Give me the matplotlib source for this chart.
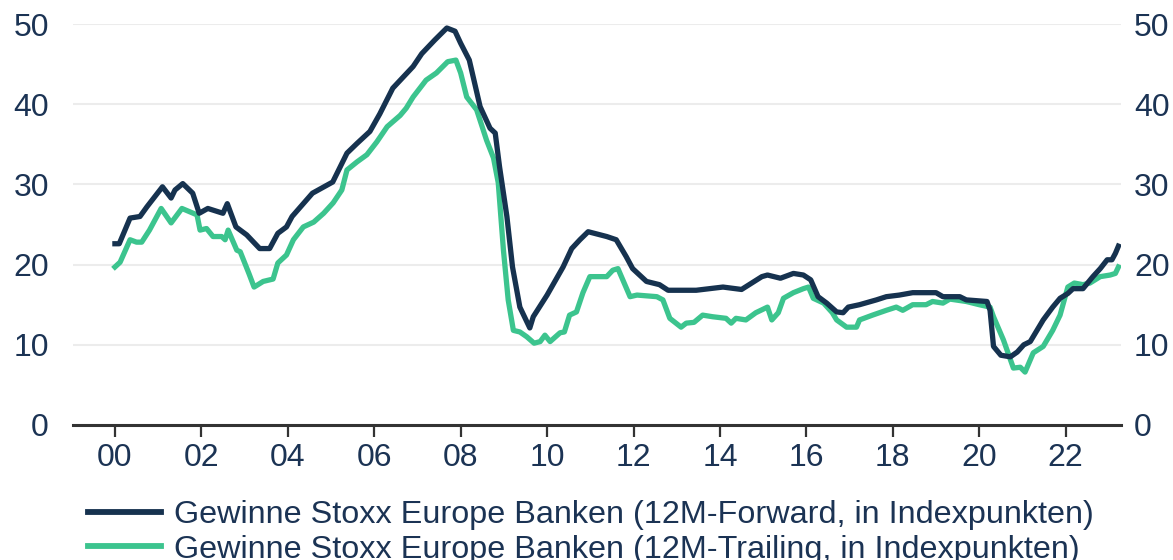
import matplotlib
matplotlib.use("Agg")
import matplotlib.pyplot as plt

plt.rcParams['font.family'] = ['Liberation Sans', 'DejaVu Sans']

# 12M-Forward earnings (year, index points)
fwd_years = [2000.0, 2000.1, 2000.35, 2000.58, 2000.74, 2001.1, 2001.3, 2001.39, 2001.57, 2001.8,
             2001.95, 2002.15, 2002.5, 2002.6, 2002.8, 2003.05, 2003.35, 2003.58, 2003.77, 2003.97,
             2004.1, 2004.57, 2005.04, 2005.37, 2005.6, 2005.9, 2006.13, 2006.43, 2006.9, 2007.1,
             2007.4, 2007.68, 2007.87, 2008.0, 2008.2, 2008.45, 2008.68, 2008.8, 2008.9, 2009.07,
             2009.2, 2009.37, 2009.6, 2009.68, 2010.0, 2010.37, 2010.57, 2010.76, 2010.95, 2011.38,
             2011.6, 2011.83, 2011.98, 2012.3, 2012.6, 2012.8, 2013.45, 2014.07, 2014.5, 2014.97,
             2015.1, 2015.4, 2015.7, 2015.93, 2016.1, 2016.27, 2016.47, 2016.7, 2016.85, 2016.97,
             2017.23, 2017.62, 2017.85, 2018.15, 2018.46, 2019.0, 2019.16, 2019.55, 2019.7, 2020.18,
             2020.25, 2020.33, 2020.5, 2020.72, 2020.88, 2021.03, 2021.18, 2021.48, 2021.7, 2021.87,
             2022.05, 2022.17, 2022.4, 2022.63, 2022.8, 2022.96, 2023.07, 2023.15, 2023.22]
fwd_values = [22.6, 22.6, 25.8, 26.0, 27.2, 29.7, 28.3, 29.3, 30.1, 28.9,
              26.4, 27.0, 26.4, 27.6, 24.7, 23.7, 22.0, 22.0, 23.9, 24.7,
              26.0, 28.9, 30.3, 33.9, 35.1, 36.6, 38.8, 42.0, 44.7, 46.3,
              48.0, 49.5, 49.1, 47.6, 45.5, 39.7, 37.0, 36.4, 32.2, 26.0,
              19.7, 14.7, 12.1, 13.5, 16.2, 19.7, 22.0, 23.1, 24.1, 23.5,
              23.1, 21.0, 19.5, 17.9, 17.5, 16.8, 16.8, 17.2, 16.9, 18.5,
              18.7, 18.3, 18.9, 18.7, 18.1, 16.0, 15.2, 14.1, 14.0, 14.7,
              15.0, 15.6, 16.0, 16.2, 16.5, 16.5, 16.0, 16.0, 15.6, 15.4,
              14.3, 9.8, 8.7, 8.5, 9.1, 10.0, 10.4, 13.1, 14.7, 15.8,
              16.4, 17.0, 17.0, 18.5, 19.5, 20.6, 20.6, 21.4, 22.3]

# 12M-Trailing earnings (year, index points)
trl_years = [2000.0, 2000.12, 2000.35, 2000.5, 2000.62, 2000.8, 2001.07, 2001.3, 2001.55, 2001.9,
             2001.97, 2002.12, 2002.27, 2002.47, 2002.55, 2002.62, 2002.82, 2002.9, 2003.1, 2003.22,
             2003.43, 2003.66, 2003.77, 2003.97, 2004.13, 2004.36, 2004.6, 2004.83, 2005.05, 2005.25,
             2005.37, 2005.6, 2005.83, 2006.06, 2006.3, 2006.6, 2006.74, 2006.9, 2007.2, 2007.44,
             2007.7, 2007.89, 2008.0, 2008.14, 2008.37, 2008.6, 2008.76, 2008.87, 2008.99, 2009.1,
             2009.22, 2009.37, 2009.53, 2009.7, 2009.84, 2009.95, 2010.07, 2010.3, 2010.4, 2010.52,
             2010.68, 2010.83, 2010.99, 2011.38, 2011.52, 2011.64, 2011.8, 2011.92, 2012.08, 2012.54,
             2012.68, 2012.84, 2013.1, 2013.22, 2013.4, 2013.6, 2013.83, 2014.14, 2014.26, 2014.37,
             2014.6, 2014.83, 2015.1, 2015.2, 2015.35, 2015.47, 2015.7, 2015.93, 2016.05, 2016.16,
             2016.4, 2016.6, 2016.7, 2016.93, 2017.16, 2017.23, 2017.53, 2017.85, 2018.08, 2018.23,
             2018.46, 2018.77, 2018.92, 2019.16, 2019.32, 2019.7, 2020.0, 2020.25, 2020.33, 2020.56,
             2020.79, 2020.95, 2021.06, 2021.25, 2021.48, 2021.7, 2021.87, 2022.05, 2022.2, 2022.4,
             2022.56, 2022.8, 2023.03, 2023.15, 2023.22]
trl_values = [19.7, 20.3, 23.1, 22.8, 22.8, 24.3, 27.0, 25.2, 27.0, 26.2,
              24.3, 24.5, 23.5, 23.5, 23.1, 24.3, 21.8, 21.6, 18.9, 17.2,
              17.9, 18.2, 20.2, 21.2, 23.1, 24.7, 25.3, 26.4, 27.7, 29.3,
              31.8, 32.8, 33.7, 35.3, 37.2, 38.6, 39.5, 40.9, 43.0, 43.9,
              45.3, 45.5, 43.9, 40.9, 39.3, 35.5, 33.3, 30.2, 21.8, 15.6,
              11.8, 11.6, 11.0, 10.2, 10.4, 11.2, 10.4, 11.5, 11.6, 13.7,
              14.1, 16.5, 18.5, 18.5, 19.3, 19.5, 17.5, 16.0, 16.2, 16.0,
              15.6, 13.3, 12.2, 12.7, 12.8, 13.7, 13.5, 13.3, 12.7, 13.3,
              13.1, 14.0, 14.7, 13.1, 14.0, 15.8, 16.5, 17.0, 17.2, 15.8,
              15.2, 14.0, 13.1, 12.2, 12.2, 13.1, 13.7, 14.3, 14.7, 14.3,
              15.0, 15.0, 15.4, 15.2, 15.7, 15.4, 15.0, 14.7, 13.5, 10.6,
              7.1, 7.2, 6.6, 9.0, 9.8, 11.8, 13.7, 17.2, 17.7, 17.5,
              17.7, 18.5, 18.7, 18.9, 19.7]

tick_years = [2000, 2002, 2004, 2006, 2008, 2010, 2012, 2014, 2016, 2018, 2020, 2022]
tick_labels = ['00', '02', '04', '06', '08', '10', '12', '14', '16', '18', '20', '22']
y_ticks = [0, 10, 20, 30, 40, 50]

label_fwd = 'Gewinne Stoxx Europe Banken (12M-Forward, in Indexpunkten)'
label_trl = 'Gewinne Stoxx Europe Banken (12M-Trailing, in Indexpunkten)'

NAVY = '#16324f'
GREEN = '#3cc48e'
TEXT = '#1b3354'

fig = plt.figure(figsize=(11.73, 5.6), dpi=100)
ax = fig.add_axes([73/1173, 1-425/560, (1121-73)/1173, (425-24)/560])

ax.plot(fwd_years, fwd_values, color=NAVY, lw=3.8, solid_joinstyle='round', zorder=3, label=label_fwd)
ax.plot(trl_years, trl_values, color=GREEN, lw=3.8, solid_joinstyle='round', zorder=2, label=label_trl)

ax.set_xlim(1999.03, 2023.28)
ax.set_ylim(0, 50)
ax.set_yticks(y_ticks)
ax.set_xticks(tick_years)
ax.set_xticklabels(tick_labels)
ax.grid(axis='y', color='#ececec', lw=1.5, zorder=0)
ax.set_axisbelow(True)

for s in ['top', 'left', 'right']:
    ax.spines[s].set_visible(False)
ax.spines['bottom'].set_color('#333333')
ax.spines['bottom'].set_linewidth(2.2)

ax.tick_params(axis='x', length=8.6, width=1.6, color='#333333', labelsize=23, labelcolor=TEXT, pad=4)
ax.tick_params(axis='y', length=0, labelsize=23, labelcolor=TEXT, labelleft=True, labelright=True)

for t in ax.yaxis.get_major_ticks():
    t.label1.set_horizontalalignment('right')
    t.label2.set_horizontalalignment('left')
    t.label1.set_x(-24/1048)
    t.label2.set_x(1 + 13/1048)
ax.tick_params(axis='y', pad=0)
for t in ax.yaxis.get_major_ticks():
    t.label1.set_transform(ax.get_yaxis_transform())
    t.label2.set_transform(ax.get_yaxis_transform())

leg = fig.legend(loc='upper left', bbox_to_anchor=(75/1173, 1-487/560), frameon=False,
                 fontsize=23.3, labelcolor=TEXT, handlelength=2.25, handletextpad=0.4,
                 labelspacing=0.15, borderaxespad=0)
for h in leg.get_lines():
    h.set_linewidth(4.2)

fig.savefig('out.png', dpi=100)
